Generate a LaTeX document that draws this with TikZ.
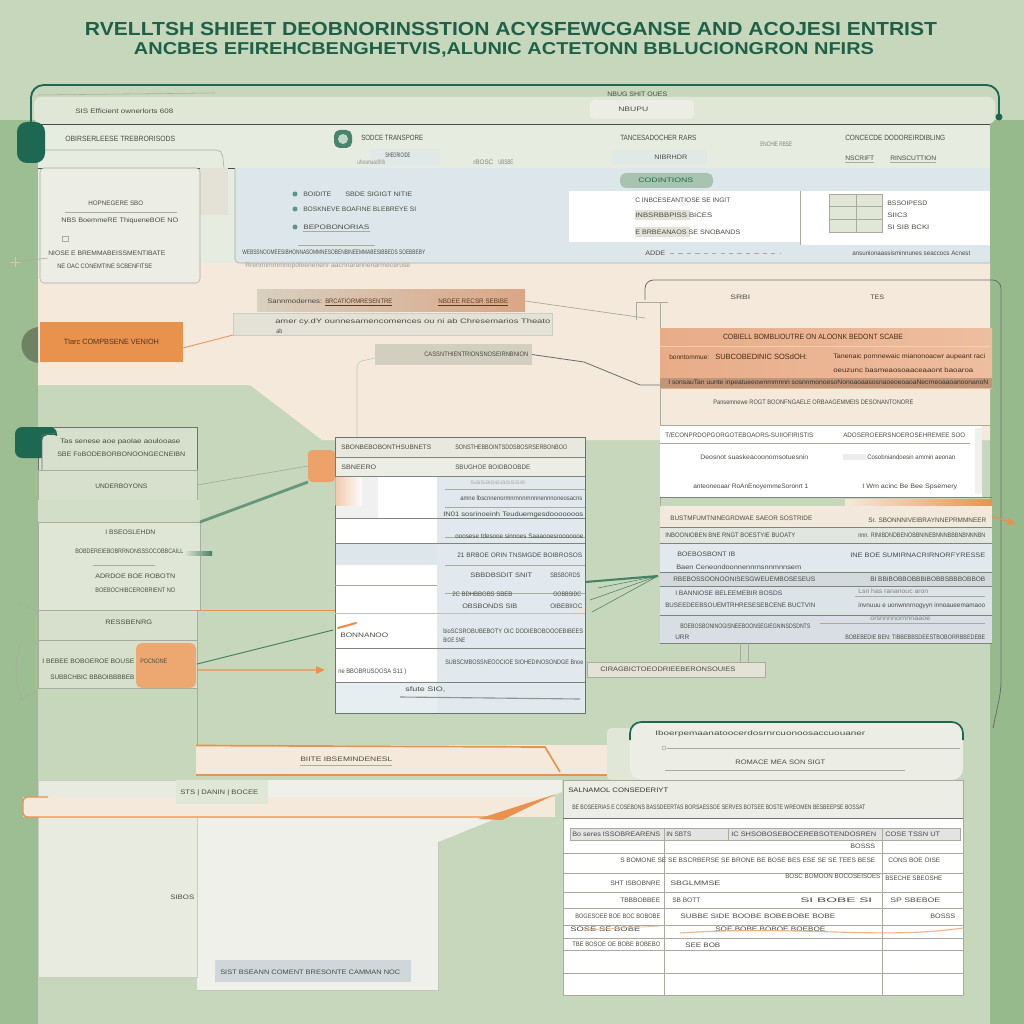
\documentclass[tikz,border=0pt]{standalone}
\usepackage{fontspec}
\usepackage{graphicx}
\setmainfont{Liberation Sans}
\newfontfamily\cond[FakeStretch=0.8]{Liberation Sans}
\usetikzlibrary{arrows.meta,fit}
\definecolor{bg}{RGB}{199,215,188}
\definecolor{bandL}{RGB}{156,190,146}
\definecolor{bandR}{RGB}{150,186,140}
\definecolor{tealdk}{RGB}{28,104,80}
\definecolor{ttlc}{RGB}{30,96,72}
\definecolor{txt}{RGB}{72,76,66}
\definecolor{dline}{RGB}{70,80,72}
\definecolor{lline}{RGB}{168,172,158}
\definecolor{panelA}{RGB}{224,231,214}
\definecolor{panel}{RGB}{231,236,225}
\definecolor{panelB}{RGB}{236,238,229}
\definecolor{lblue}{RGB}{221,231,235}
\definecolor{peach}{RGB}{245,233,220}
\definecolor{orng}{RGB}{233,146,78}
\definecolor{tanA}{RGB}{216,208,192}
\definecolor{tanB}{RGB}{218,166,134}
\definecolor{grayA}{RGB}{228,226,214}
\definecolor{grayB}{RGB}{210,206,192}
\definecolor{pill}{RGB}{168,196,176}
\definecolor{rowblue}{RGB}{226,233,238}
\definecolor{olive}{RGB}{112,130,100}
\definecolor{sage}{RGB}{214,224,204}
\definecolor{obL}{RGB}{232,172,136}
\definecolor{obR}{RGB}{238,190,160}
\definecolor{gline}{RGB}{70,130,100}
\newdimen\upx \upx=0.25mm
\newcommand\fw[2]{\resizebox{#1\upx}{\height}{#2}}
\newcommand\sm{\cond\fontsize{5.4}{6}\selectfont}
\newcommand\xs{\cond\fontsize{4.6}{5}\selectfont}
\newcommand\Bx[6]{\node[area, fit={(#2,#3) (#4,#5)}, #6] (#1) {};}
\tikzset{
  lbl/.style={font=\sm, text=txt, inner sep=0pt, anchor=west},
  lblx/.style={font=\xs, text=txt, inner sep=0pt, anchor=west},
  ttl/.style={font=\bfseries, text=ttlc, inner sep=0pt},
  area/.style={inner sep=0pt, outer sep=0pt, rectangle},
  gconn/.style={draw=gline, line width=0.7pt},
  oconn/.style={draw=orng, line width=0.6pt},
  lconn/.style={draw=lline, line width=0.5pt},
  oarrow/.style={draw=orng, line width=0.9pt, -{Triangle[length=2.2mm,width=1.8mm]}},
}
\begin{document}
\begin{tikzpicture}[x=0.25mm,y=-0.25mm]
\useasboundingbox (0,0) rectangle (1024,1024);
\fill[bg] (0,0) rectangle (1024,1024);
\fill[bandL] (0,120) rectangle (38,1024);
\fill[bandR] (990,120) rectangle (1024,1024);

% title
\node[ttl] (title1) at (511,29) {\resizebox{213mm}{3.3mm}{RVELLTSH SHIEET DEOBNORINSSTION ACYSFEWCGANSE AND ACOJESI ENTRIST}};
\node[ttl] (title2) at (504,50) {\resizebox{185mm}{3.0mm}{ANCBES EFIREHCBENGHETVIS,ALUNIC ACTETONN BBLUCIONGRON NFIRS}};

% top frame
\Bx{topstrip}{34}{97}{995}{124}{fill=panelA, rounded corners=5}
\draw[tealdk, line width=1.3pt, rounded corners=9] (31,122) -- (31,85) -- (999,85) -- (999,116);
\fill[tealdk] (999,117) circle (3.5);
\draw[lline] (38,95) -- (215,93);
\node[lblx] (topnote) at (75,111) {\fw{98}{SIS Efficient ownerlorts 608}};
\node[lblx] (toplab) at (607,94) {\fw{60}{NBUG SHIT OUES}};
\Bx{topbox}{590}{100}{694}{119}{fill=panelB, rounded corners=3}
\node[lblx] (toptxt) at (618,109) {\fw{30}{NBUPU}};

% main panel
\Bx{mainpanel}{38}{124}{990}{265}{fill=panel}
\draw[dline, line width=0.7pt] (38,124.5) -- (990,124.5);
\draw[dline, line width=0.6pt] (38,168) -- (990,168);
\draw[lline, rounded corners=4] (38,150) -- (222,150) -- (224,168);
\fill[tealdk, rounded corners=7] (17,122) rectangle (45,163);
\node[lbl] (h1) at (65,139) {\fw{110}{OBIRSERLEESE TREBRORISODS}};
\Bx{hicon}{334}{130}{352}{148}{fill=tealdk!70!pill, rounded corners=4}
\fill[pill!70!white] (343,139) circle (5);
\node[lbl] (h2) at (361,138) {\fw{62}{SODCE TRANSPORE}};
\Bx{hsub}{370}{149}{440}{166}{fill=lblue!70!panel}
\node[lblx] (h2b) at (385,155) {\fw{25}{SHEORIOIDE}};
\node[lblx, text=txt!60] (h2c) at (357,162) {\fw{28}{uheanuadhlb}};
\node[lblx, text=txt!70] (h2d) at (473,162) {\fw{20}{rBOSC}};
\node[lblx, text=txt!70] (h2e) at (498,162) {\fw{15}{UBSBE}};
\node[lbl] (h3) at (620,138) {\fw{76}{TANCESADOCHER RARS}};
\node[lblx, text=txt!70] (h3b) at (760,144) {\fw{32}{ENCHIE RBSE}};
\Bx{hbox}{612}{150}{707}{165}{fill=lblue!60!panel}
\node[lblx] (h3c) at (654,157) {\fw{33}{NIBRHDR}};
\node[lbl] (h4) at (845,138) {\fw{100}{CONCECDE DODOREIRDIBLING}};
\node[lblx] (h4b) at (845,158) {\fw{29}{NSCRIFT}};
\node[lblx] (h4c) at (890,158) {\fw{46}{RINSCUTTION}};
\draw[lline] (845,162) -- (874,162) (890,162) -- (936,162);

% peach region
\fill[peach] (38,263) -- (990,263) -- (990,440) -- (322,440) -- (250,385) -- (38,385) -- cycle;

% blue sub panel
\fill[lblue] (235,168) rectangle (990,263);
\draw[lline, rounded corners=3] (235,168) -- (235,263) -- (990,263);
\fill[white] (569,191) rectangle (800,242);
\fill[white] (800,191) rectangle (990,245);
\draw[lline] (800,191) -- (800,245);
\Bx{pillbox}{620}{173}{713}{188}{fill=pill, rounded corners=4}
\node[lblx, text=tealdk] (pilltxt) at (638,180) {\fw{55}{CODINTIONS}};
\foreach \yy in {194,209,227}{\fill[tealdk!70] (295,\yy) circle (2.5);}
\node[lblx] (bu1) at (303,194) {\fw{28}{BOIDITE}};
\node[lblx] (bu1b) at (345,194) {\fw{67}{SBDE SIGIGT NITIE}};
\node[lblx] (bu2) at (303,209) {\fw{113}{BOSKNEVE BOAFINE BLEBREYE SI}};
\node[lblx] (bu3) at (303,227) {\fw{66}{BEPOBONORIAS}};
\draw[lline] (303,231) -- (370,231);
\draw[lline] (298,245) -- (375,245);
\node[lblx] (bu4) at (242,252) {\fw{183}{WEBSSNOOMEESIBHONNASOMMNESOBENBINEEMMABESIBBEDS SOEBBEBY}};
\node[lblx, text=txt!55] (bu5) at (245,266) {\fw{165}{Rrenmimmmnopoleenenenr aacnnarannenarmeceruse}};
\node[lblx] (wb1) at (635,200) {\fw{95}{C INBCESEANTIOSE SE INGIT}};
\fill[grayA] (635,210) rectangle (690,220);
\node[lblx] (wb2) at (635,215) {\fw{77}{INBSRBBPISS BICES}};
\fill[grayA] (635,227) rectangle (690,237);
\node[lblx] (wb3) at (635,232) {\fw{105}{E BRBEANAOS SE SNOBANDS}};
\Bx{ticon}{829}{194}{882}{232}{fill=panelA, draw=lline}
\draw[lline] (829,206) -- (882,206) (829,219) -- (882,219) (856,194) -- (856,232);
\node[lblx] (wb4) at (887,203) {\fw{40}{BSSOIPESD}};
\node[lblx] (wb5) at (887,215) {\fw{20}{SIIC3}};
\node[lblx] (wb6) at (887,227) {\fw{42}{SI SIB BCKI}};
\node[lblx] (wb7) at (645,253) {\fw{20}{ADDE}};
\draw[lline, dashed] (670,253) -- (780,253);
\node[lblx] (wb8) at (852,253) {\fw{118}{ansunionaassisminnunes seaccocs Acnest}};

% left inner box
\fill[grayA] (200,168) rectangle (228,215);
\Bx{leftbox}{40}{168}{200}{283}{fill=panelB, draw=lline, rounded corners=3}
\node[lblx] (lb1) at (88,203) {\fw{55}{HOPNEGERE SBO}};
\draw[lline] (65,212) -- (177,212);
\node[lblx] (lb2) at (61,221) {\fw{117}{NBS BoemmeRE ThiqueneBOE NO}};
\draw[lline] (62,236) rectangle (68,241);
\node[lblx] (lb3) at (48,253) {\fw{117}{NIOSE E BREMMABEISSMENTIBATE}};
\node[lblx] (lb4) at (57,266) {\fw{95}{NE OAC CONEMTINE SCBENFITSE}};
\draw[lline] (12,262) -- (48,258);
\draw[orng!60] (10,262) -- (20,262) (15,257) -- (15,267);

% orange box
\fill[olive] (38,327) .. controls (16,330) and (16,360) .. (38,363) -- cycle;
\Bx{obox}{40}{322}{183}{362}{fill=orng}
\node[lbl, anchor=center, text=orng!35!black] (obt) at (obox.center) {\fw{95}{Tlarc COMPBSENE VENIOH}};

% bars
\node[area, fit={(257,290) (525,312)}, left color=tanA, right color=tanB] (tanbar) {};
\node[lblx] (tb1) at (267,301) {\fw{55}{Sannmodernes:}};
\node[lblx, text=orng!40!black] (tb2) at (325,301) {\fw{67}{BRCATIORMRESENTRE}};
\node[lblx, text=orng!40!black] (tb3) at (438,301) {\fw{70}{NBDEE RECSR SEBIBE}};
\draw[orng!40!black, line width=0.3pt] (325,305) -- (392,305) (438,305) -- (508,305);
\Bx{graybar}{233}{313}{552}{335}{fill=grayA, draw=lline!60}
\node[lblx] (gb1) at (275,322) {\fw{275}{amer cy.dY ounnesamencomences ou ni ab Chresemarios Theato}};
\node[lblx] (gb2) at (276,331) {\fw{6}{ab}};
\draw[lline!70, rounded corners=4] (357,440) -- (357,362) -- (375,358);
\Bx{sgbar}{375}{344}{532}{365}{fill=grayB}
\node[lblx] (sg1) at (424,354) {\fw{104}{CASSNTHIENTRIONSNOSEIRNBNION}};

% connectors of the upper part
\draw[oconn] ([yshift=-1.5mm]obox.east) -- (graybar.south west);
\coordinate (rpin1) at (645,318);
\coordinate (rpin2) at (660,385);
\draw[lconn] (tanbar.east) -- (rpin1);
\draw[draw=dline!80, line width=0.6pt] (sgbar.east) -- (584,362) -- (640,385) -- (rpin2);

% right panel
\draw[dline!80, line width=0.6pt, rounded corners=6] (645,300) -- (645,280) -- (1001,280) -- (1001,690) -- (993,728);
\draw[lline] (636,320) -- (636,302) -- (668,302);
\draw[lline] (660,302) -- (660,643);
\node[lblx] (rp0a) at (730,297) {\fw{20}{SRBI}};
\node[lblx] (rp0b) at (870,297) {\fw{14}{TES}};
\node[area, fit={(660,328) (992,388)}, left color=obL, right color=obR] (oband) {};
\draw[white!55!orng] (660,346) -- (990,346);
\node[lbl, anchor=center, text=orng!30!black] (ob1) at (813,337) {\fw{180}{COBIELL BOMBLIOUTRE ON ALOONK BEDONT SCABE}};
\node[lblx, text=orng!30!black] (ob2) at (669,357) {\fw{40}{bonntommue:}};
\node[lbl, text=orng!30!black] (ob3) at (715,357) {\fw{92}{SUBCOBEDINIC SOSdOH:}};
\node[lblx, text=orng!30!black] (ob4) at (833,357) {\fw{152}{Tanenaic pornnewaic mianonoacwr aupeant raci}};
\node[lblx, text=orng!30!black] (ob5) at (833,370) {\fw{140}{oeuzunc  basmeaosoaaceaaont  baoaroa}};
\fill[obL!75!dline] (660,378) rectangle (992,388);
\node[lblx, text=black!80] (ob6) at (668,383) {\fw{320}{I sonsauTan uunte inpeatueeownmmnnn sosnnmonoesoNonoaoaasosnaoeoeoaoaNecrneoaaoanoonanoN}};
\node[lblx] (rp1) at (713,402) {\fw{200}{Pansemnewe ROGT BOONFNGAELE ORBAAGEMMEIS DESONANTONORE}};
\Bx{wblock}{660}{425}{982}{497}{fill=white}
\fill[gray!12] (975,428) rectangle (982,494);
\draw[lline] (660,425) -- (990,425);
\draw[dline!70] (660,497) -- (992,497);
\draw[lline] (660,443) -- (970,443);
\node[lblx] (wr1) at (665,435) {\fw{148}{T/ECONPRDOPGORGOTEBOAORS-SUIIOFIRISTIS}};
\node[lblx] (wr2) at (843,435) {\fw{122}{ADOSEROEERSNOEROSEHREMEE SOO}};
\node[lblx] (wr3) at (700,457) {\fw{108}{Deosnot suaskeacoonomsotuesnin}};
\fill[gray!15] (843,454) rectangle (866,460);
\node[lblx] (wr4) at (867,457) {\fw{88}{Cosobniandoesin ammin aeonan}};
\node[lblx] (wr5) at (693,487) {\fw{115}{anteoneoaar RoAnEnoyemmeSoronrt 1}};
\node[lblx] (wr6) at (862,487) {\fw{95}{I Wm acinc Be Bee Spsemery}};
\shade[left color=peach, right color=orng] (845,499) rectangle (992,506);
\Bx{rb1}{660}{506}{992}{527}{fill=peach!80!grayA}
\Bx{rb2}{660}{527}{992}{543}{fill=grayA!60!rowblue}
\Bx{rb3}{660}{543}{992}{572}{fill=rowblue}
\Bx{rb4}{660}{572}{992}{586}{fill=rowblue!85!gray}
\Bx{rb5}{660}{586}{992}{615}{fill=rowblue!95!gray}
\Bx{rb6}{660}{615}{992}{643}{fill=rowblue!90!gray}
\foreach \yy in {527,543,572,586,615,643}{\draw[dline!70, line width=0.5pt] (660,\yy) -- (992,\yy);}
\node[lblx] (r11) at (670,518) {\fw{142}{BUSTMFUMTNINEGRDWAE SAEOR SOSTRIDE}};
\node[lblx] (r12) at (868,520) {\fw{118}{Sr. SBONNNIVEIBRAYNNEPRMMNEER}};
\node[lblx] (r21) at (665,535) {\fw{130}{INBOONIOBEN BNE RNGT BOESTYIE BUOATY}};
\node[lblx] (r22) at (858,535) {\fw{127}{nnn. RINIBDNDBENOBBNINEBNNNBBBNBNNNBN}};
\node[lblx] (r31) at (677,554) {\fw{58}{BOEBOSBONT IB}};
\node[lblx] (r32) at (676,567) {\fw{125}{Baen Ceneondoonnennrnsnnmnnsem}};
\node[lblx] (r33) at (850,555) {\fw{135}{INE BOE SUMIRNACRIRNORFYRESSE}};
\node[lblx] (r41) at (673,579) {\fw{142}{RBEBOSSOONOONISESGWEUEMBOSESEUS}};
\node[lblx] (r42) at (870,579) {\fw{115}{BI BBIBOBBOBBBIBOBBSBBBOBBOB}};
\node[lblx] (r51) at (675,593) {\fw{107}{I BANNIOSE BELEEMEBIR BOSDS}};
\node[lblx] (r52) at (665,605) {\fw{150}{BUSEEDEEBSOUEMTRHRESESEBCENE BUCTVIN}};
\node[lblx, text=txt!70] (r53) at (858,591) {\fw{70}{Lsn has rananouc aron}};
\draw[lline] (855,596) -- (985,596);
\node[lblx] (r54) at (858,606) {\fw{127}{invnuuu e uonwnnrnogyyn innoaueemamaoo}};
\node[lblx] (r61) at (680,626) {\fw{130}{BOEBOSBONINOGISNEEBOONSEGIEGNINSDSDNTS}};
\node[lblx] (r62) at (675,637) {\fw{14}{URR}};
\draw[lline] (820,623) -- (985,623);
\node[lblx, text=txt!70] (r63) at (870,619) {\fw{60}{orsnnnnornnnaaoe}};
\node[lblx] (r64) at (845,637) {\fw{140}{BOBEBEDIE BEN: TIBBEBBSDEESTBOBORRBBEDEBE}};
\coordinate (rpout) at (1016,524);
\draw[oarrow] (rb1.east) -- (rpout);

% centre table
\Bx{ctable}{335}{437}{585}{713}{fill=rowblue, draw=dline!80, line width=0.6pt}
\fill[grayA!80!white] (335.5,437.5) rectangle (584.5,457);
\fill[panelB] (335.5,457) rectangle (584.5,476);
\fill[white] (335.5,476) rectangle (437,712.5);
\fill[gray!12] (335.5,476) rectangle (378,518);
\fill[lblue] (335.5,543) rectangle (437,565);
\fill[lblue!70!white] (335.5,682) rectangle (437,712.5);
\Bx{opatch}{308}{450}{335}{482}{fill=orng!85, rounded corners=3}
\shade[left color=orng!55, right color=white, opacity=0.8] (335.5,476) rectangle (362,505);
\foreach \yy in {457,476,518,543,648,682}{\draw[dline!70, line width=0.5pt] (335,\yy) -- (585,\yy);}
\foreach \yy in {489,507,537,565,593}{\draw[lline] (445,\yy) -- (585,\yy);}
\draw[lline] (335,585) -- (437,585);
\draw[orng!70, line width=0.6pt] (335,613) -- (585,613);
\draw[dline!60, line width=0.8pt] (400,697) -- (580,699);
\node[lblx] (ct1) at (341,447) {\fw{90}{SBONBEBOBONTHSUBNETS}};
\node[lblx] (ct2) at (455,447) {\fw{112}{SONSTHEBBOINTSDDSBOSRSERBONBOO}};
\node[lblx] (ct3) at (341,467) {\fw{35}{SBNEERO}};
\node[lblx] (ct4) at (455,467) {\fw{75}{SBUGHOE BOIDBOOBDE}};
\node[lblx, text=txt!45] (ct5) at (470,483) {\fw{55}{sasaseassse}};
\node[lblx] (ct6) at (460,498) {\fw{122}{amne lbscnnenormnrnnnrnnnnennnoneosacns}};
\node[lblx] (ct7) at (443,515) {\fw{140}{IN01  sosrinoeinh  Teuduemgesdooooooos}};
\node[lblx] (ct8) at (455,536) {\fw{128}{ooosese tdesooe sinnoes  Saaaooesrooooooe}};
\node[lblx] (ct9) at (457,555) {\fw{125}{21 BRBOE ORIN  TNSMGDE BOIBROSOS}};
\node[lblx] (ct10) at (470,575) {\fw{62}{SBBDBSDIT SNIT}};
\node[lblx] (ct11) at (550,575) {\fw{30}{SBSBORDS}};
\node[lblx] (ct12) at (452,594) {\fw{60}{2C BDHBBOBS  SBEB}};
\node[lblx] (ct13) at (553,594) {\fw{28}{OOBBSIDC}};
\node[lblx] (ct14) at (462,606) {\fw{55}{OBSBONDS  SIB}};
\node[lblx] (ct15) at (550,606) {\fw{32}{OIBEBIIOC}};
\draw[orng, line width=1.5pt, line cap=round] (338,628) -- (356,623);
\node[lblx] (ct16) at (340,635) {\fw{48}{BONNANOO}};
\node[lblx] (ct17) at (443,631) {\fw{140}{bioSCSROBUBEBOTY OIC DODIEBOBOOOEBIBEES}};
\node[lblx] (ct18) at (443,640) {\fw{22}{BIOE SNE}};
\node[lblx] (ct19) at (338,672) {\fw{68}{ne BBOBRUSOOSA S11 )}};
\node[lblx] (ct20) at (445,662) {\fw{138}{SUBSCMBOSSNEOOCIOE  SIOHEDINOSONDGE  Bnoe}};
\node[lblx] (ct21) at (405,690) {\fw{40}{sfute   SIO,}};

% left column boxes
\Bx{la}{38}{427}{197}{470}{fill=sage, draw=dline!80}
\fill[tealdk, rounded corners=5] (15,427) rectangle (57,458);
\fill[sage, rounded corners=4] (42,435) rectangle (60,470);
\draw[dline!80] (42,470) -- (42,435) -- (57,433);
\node[lblx] (la1) at (60,442) {\fw{120}{Tas senese aoe paolae aoulooase}};
\node[lblx] (la2) at (57,454) {\fw{128}{SBE FoBODEBORBONOONGECNEIBN}};
\Bx{lb}{38}{470}{197}{500}{fill=sage, draw=lline}
\node[lblx] (lb5) at (95,486) {\fw{52}{UNDERBOYONS}};
\fill[sage!80!bg] (38,500) rectangle (200,522);
\Bx{lc}{38}{522}{200}{610}{fill=sage!60!panelB, draw=lline}
\node[lblx] (lc1) at (105,532) {\fw{50}{I BSEOSLEHDN}};
\node[lblx] (lc2) at (75,551) {\fw{108}{BOBDEREIEBOBRRNONSSSOCOBBCAILL}};
\shade[left color=sage, right color=gline] (186,551) rectangle (212,555);
\draw[lline] (93,565) -- (155,565);
\node[lblx] (lc3) at (95,576) {\fw{80}{ADRDOE BOE ROBOTN}};
\node[lblx] (lc4) at (95,590) {\fw{80}{BOEBOCHIBCEROBRIENT NO}};
\Bx{ld}{38}{610}{197}{640}{fill=sage, draw=lline}
\node[lblx] (ld1) at (105,622) {\fw{47}{RESSBENRG}};
\Bx{le}{38}{640}{197}{688}{fill=sage, draw=lline}
\fill[orng!80, rounded corners=4] (136,643) rectangle (196,688);
\node[lblx] (le1) at (42,661) {\fw{92}{I BEBEE BOBOEROE BOUSE}};
\node[lblx] (le2) at (140,661) {\fw{27}{POCNONE}};
\node[lblx] (le3) at (50,677) {\fw{84}{SUBBCHBIC BBBOIBBBBEB}};
\draw[lline] (18,603) -- (38,612) (20,700) -- (38,690) (22,640) .. controls (14,660) and (14,680) .. (22,700);

% connectors to the table
\draw[gconn, line width=2pt, opacity=0.75] (lc.north east) -- (opatch.south west);
\draw[lconn] (lb.east) -- (opatch.west);
\draw[oconn] (ld.north east) -- (ld.north east -| ctable.west);
\coordinate (ctin) at (333,630);
\coordinate (ctarr) at (325,670);
\draw[gconn] (le.east) -- (ctin);
\draw[oarrow] ([yshift=-1.5mm]le.east) -- (ctarr);
\coordinate (ctout) at (585,582);
\coordinate (rpin3) at (658,576);
\draw[gconn, line width=1.5pt] (ctout) -- (rpin3);
\draw[gconn, line width=0.4pt] (rpin3) -- (590,600) (rpin3) -- (592,612) (rpin3) -- (598,588);
\Bx{cbar}{587}{662}{765}{677}{fill=grayA, draw=lline}
\node[lblx] (cb1) at (600,669) {\fw{135}{CIRAGBICTOEODRIEEBERONSOUIES}};
\draw[lline] (740,643) -- (740,662) (748,643) -- (748,662);

% bottom
\draw[lline] (197,688) -- (197,745);
\Bx{obband}{196}{745}{607}{776}{fill=peach}
\draw[orng, line width=1.2pt] (196,745.5) -- (545,747) -- (560,772);
\draw[orng, line width=1.5pt] (196,775) -- (607,775);
\node[lblx] (obb1) at (300,759) {\fw{92}{BIITE IBSEMINDENESL}};
\draw[lline] (300,765) -- (392,765);
\fill[panelA, rounded corners=3] (607,728) rectangle (640,780);
\Bx{rpan}{630}{722}{963}{780}{fill=panelB, rounded corners=8}
\draw[tealdk, line width=1.2pt, rounded corners=8] (630,740) -- (630,722) -- (963,722) -- (963,740);
\node[lblx] (rpn1) at (655,734) {\fw{210}{Iboerpemaanatoocerdosrnrcuonoosaccuouaner}};
\draw[lline] (664,748) circle (2);
\draw[lline] (667,748) -- (960,748);
\node[lblx] (rpn2) at (735,762) {\fw{90}{ROMACE MEA SON SIGT}};
\draw[lline] (665,770) -- (905,770);

\fill[panelB!85!white] (197,780) -- (562,780) -- (562,792) -- (438,842) -- (438,990) -- (197,990) -- cycle;
\draw[lline!70] (438,842) -- (438,990) -- (197,990);
\Bx{bleft}{38}{780}{197}{977}{fill=panelB!80!sage, draw=lline!60}
\fill[peach] (23,797) rectangle (555,817);
\draw[orng, line width=1pt, rounded corners=3] (48,797) -- (23,797) -- (23,817) -- (490,817);
\fill[orng] (478,819) -- (556,794) -- (502,820) -- cycle;
\Bx{sbox}{176}{780}{268}{804}{fill=panelA}
\node[lblx] (sb1) at (180,793) {\fw{78}{STS | DANIN | BOCEE}};
\node[lblx] (sb2) at (170,897) {\fw{24}{SIBOS}};
\Bx{blab}{215}{960}{411}{982}{fill=lblue!85!gray}
\node[lblx] (bl1) at (220,972) {\fw{180}{SIST BSEANN COMENT BRESONTE CAMMAN NOC}};

% bottom table
\Bx{btable}{563}{780}{963}{995}{fill=white, draw=lline}
\fill[panelB] (563.5,780.5) rectangle (962.5,818);
\draw[dline!80] (563,818) -- (963,818);
\node[lblx, text=txt!70!black] (bt0) at (568,790) {\fw{100}{SALNAMOL CONSEDERIYT}};
\node[lblx] (bt1) at (572,807) {\fw{293}{BE BOSEERIAS E COSEBONS BASSDEERTAS BORSAESSOE SERVES BOTSEE BOSTE WREOMEN BESBEEPSE BOSSAT}};
\Bx{bthead}{570}{828}{960}{840}{fill=gray!22, draw=lline}
\draw[lline] (664,828) -- (664,995) (882,828) -- (882,995) (728,828) -- (728,840);
\foreach \yy in {853,873,892,908,925,938,950,973}{\draw[lline] (563,\yy) -- (963,\yy);}
\node[lblx] (bh1) at (572,834) {\fw{88}{Bo seres ISSOBREARENS}};
\node[lblx] (bh2) at (666,834) {\fw{25}{IN SBTS}};
\node[lblx] (bh3) at (731,834) {\fw{145}{IC SHSOBOSEBOCEREBSOTENDOSREN}};
\node[lblx] (bh4) at (885,834) {\fw{55}{COSE TSSN UT}};
\node[lblx] (bt2) at (850,846) {\fw{25}{BOSSS}};
\node[lblx] (bt3) at (620,860) {\fw{255}{S BOMONE SE SE BSCRBERSE SE BRONE BE BOSE BES ESE SE SE TEES BESE}};
\node[lblx] (bt4) at (888,860) {\fw{52}{CONS BOE OISE}};
\node[lblx] (bt5) at (785,876) {\fw{95}{BOSC BOMOON BOCOSEISOES}};
\node[lblx] (bt6) at (610,883) {\fw{50}{SHT ISBOBNRE}};
\node[lblx] (bt7) at (670,883) {\fw{50}{SBGLMMSE}};
\node[lblx] (bt8) at (885,878) {\fw{57}{BSECHE SBEOSHE}};
\node[lblx] (bt9) at (620,900) {\fw{40}{TBBBOBBEE}};
\node[lblx] (bt10) at (672,900) {\fw{28}{SB BOTT}};
\node[lblx] (bt11) at (800,900) {\fw{72}{SI BOBE SI}};
\node[lblx] (bt12) at (890,900) {\fw{50}{SP SBEBOE}};
\node[lblx] (bt13) at (575,916) {\fw{85}{BOGESOEE BOE BOC BOBOBE}};
\node[lblx] (bt14) at (680,916) {\fw{155}{SUBBE SIDE BOOBE BOBEBOBE BOBE}};
\node[lblx] (bt15) at (930,916) {\fw{25}{BOSSS}};
\node[lblx] (bt16) at (570,929) {\fw{70}{SOSE SE BOBE}};
\node[lblx] (bt17) at (715,929) {\fw{110}{SOE BOBE BOBOE BOEBOE}};
\node[lblx] (bt18) at (572,944) {\fw{88}{TBE BOSOE OE BOBE BOBEBO}};
\node[lblx] (bt19) at (685,945) {\fw{35}{SEE BOB}};
\draw[orng!70, line width=0.8pt] (680,933) .. controls (800,925) and (880,940) .. (963,928);
\draw[orng!60, line width=0.6pt] (583,930) -- (660,926);
\end{tikzpicture}
\end{document}
